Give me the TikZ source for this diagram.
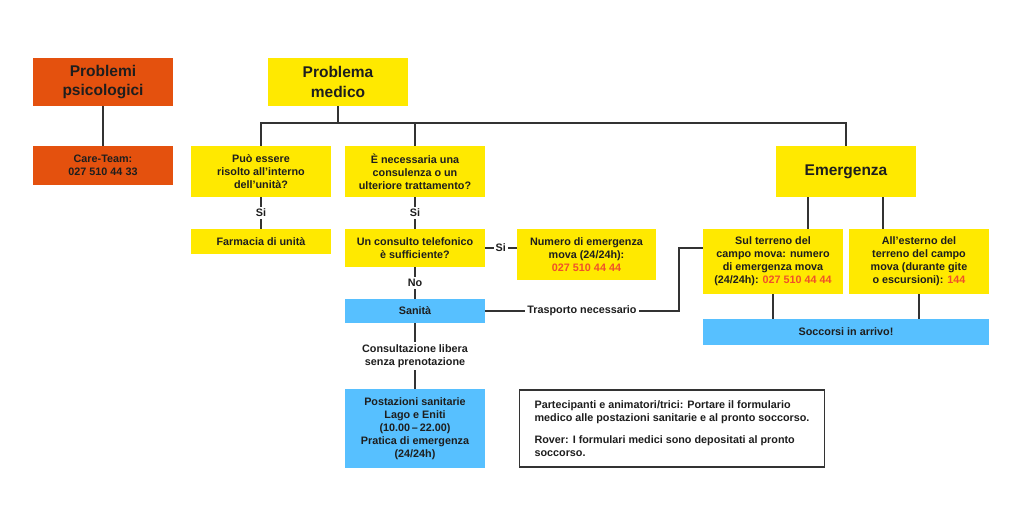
\documentclass[tikz,border=0pt]{standalone}
\usepackage{fontspec}
\setmainfont{Liberation Sans}
\definecolor{psyorange}{HTML}{E4510E}
\definecolor{medyellow}{HTML}{FFE900}
\definecolor{sanblue}{HTML}{57C0FF}
\definecolor{numred}{HTML}{F0502A}
\definecolor{linegray}{HTML}{333333}
\definecolor{textdark}{HTML}{1E1E1E}
\newcommand{\boxfont}{\bfseries\fontsize{10.8}{13}\selectfont}
\newcommand{\bigboxfont}{\bfseries\fontsize{15.5}{19.5}\selectfont}
\begin{document}
\begin{tikzpicture}
[x=1pt,y=-1pt,
  lineDecorate/.style={-,line width=1.6pt,draw=linegray},%
  boxDecorate/.style={shape=rectangle,inner sep=2pt,minimum width=139.5pt,
    align=center,text=textdark,font=\boxfont},
  yellowDecorate/.style={boxDecorate,fill=medyellow},
  blueDecorate/.style={boxDecorate,fill=sanblue},
  orangeDecorate/.style={boxDecorate,fill=psyorange},
  labelDecorate/.style={fill=white,inner sep=2pt,align=center,text=textdark,font=\boxfont}]
\useasboundingbox[fill=white] (0,0) rectangle (1024,517);
%% top boxes
\node (psy) at (103,82) [orangeDecorate,minimum height=48pt,font=\bigboxfont] {Problemi\\psicologici};
\node (care) at (103,165.5) [orangeDecorate,minimum height=39pt] {Care-Team:\\027 510 44 33};
\node (medico) at (338,82) [yellowDecorate,minimum height=48pt,font=\bigboxfont] {Problema\\medico};
\node (emerg) at (846,171.5) [yellowDecorate,minimum height=51pt,font=\bigboxfont] {Emergenza};
%% question and number boxes
\foreach \nodename/\x/\y/\h/\txt in {
  puo/261/171.5/51/{Può essere\\risolto all’interno\\dell’unità?},
  farm/261/241.5/25/{Farmacia di unità},
  neces/415/171.5/51/{È necessaria una\\consulenza o un\\ulteriore trattamento?},
  tel/415/248/38/{Un consulto telefonico\\è sufficiente?},
  numero/586.5/254.5/51/{Numero di emergenza\\mova (24/24h):\\\textcolor{numred}{027 510 44 44}},
  sul/773/261.5/65/{Sul terreno del\\campo mova: numero\\di emergenza mova\\(24/24h): \textcolor{numred}{027 510 44 44}},
  est/919/261.5/65/{All’esterno del\\terreno del campo\\mova (durante gite\\o escursioni): \textcolor{numred}{144}}}
{
  \node (\nodename) at (\x,\y) [yellowDecorate,minimum height=\h pt] {\txt};
}
\node (sanita) at (415,311) [blueDecorate,minimum height=24pt] {Sanità};
\node (posta) at (415,428.5) [blueDecorate,minimum height=79pt]
  {Postazioni sanitarie\\Lago e Eniti\\(10.00\,–\,22.00)\\Pratica di emergenza\\(24/24h)};
\node (socc) at (846,332) [blueDecorate,minimum width=286pt,minimum height=26pt] {Soccorsi in arrivo!};
\node (note) at (672,428.5) [draw=linegray,line width=1.6pt,minimum width=305pt,minimum height=77pt,
  inner sep=2pt,align=left,text=textdark,font=\boxfont]
  {Partecipanti e animatori/trici: Portare il formulario\\medico alle postazioni sanitarie e al pronto soccorso.\\[8.5pt]
   Rover: I formulari medici sono depositati al pronto\\soccorso.};
%% edges or lines
\coordinate (split) at (338,123);
\coordinate (turn) at (679,248);
\draw[lineDecorate] (medico.south) -- (split);
\draw[lineDecorate] (puo.north) |- (split) -| (emerg.north);
\draw[lineDecorate] (neces.north) -- (neces.north |- split);
\foreach \topnode/\botnode in {psy/care, sul/socc, est/socc}
{
  \draw[lineDecorate] (\topnode.south) -- (\topnode.south |- \botnode.north);
}
\foreach \xx in {808,883}
{
  \draw[lineDecorate] (emerg.south -| \xx,0) -- (sul.north -| \xx,0);
}
\foreach \topnode/\botnode/\lab in {puo/farm/Si, neces/tel/Si, tel/sanita/No}
{
  \draw[lineDecorate] (\topnode.south) -- node[labelDecorate] {\lab} (\botnode.north);
}
\draw[lineDecorate] (tel.east) -- node[labelDecorate] {Si} (tel.east -| numero.west);
\draw[lineDecorate] (sanita.east) -- node[labelDecorate] {Trasporto necessario} (sanita.east -| turn)
  -- (turn) -- (turn -| sul.west);
\draw[lineDecorate] (sanita.south) -- node[labelDecorate] {Consultazione libera\\senza prenotazione} (posta.north);
\end{tikzpicture}
\end{document}
